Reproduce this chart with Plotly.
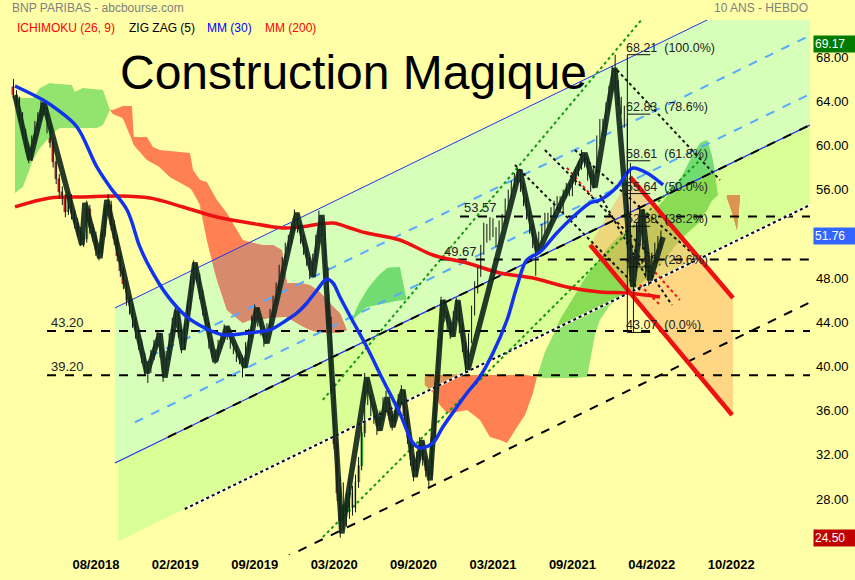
import numpy as np
import plotly.graph_objects as go

# ---------------- weekly candles (week index 0 = 08/2018 tick) ----------------
WEEK0 = -27
OPEN = [65.3, 64.6, 64.0, 62.5, 61.0, 59.8, 58.9, 60.5, 61.8, 62.6,
        63.5, 63.2, 61.5, 60.2, 58.5, 57.0, 55.8, 55.2, 54.0, 55.3,
        53.8, 53.0, 52.2, 51.4, 51.5, 54.2, 52.5, 51.8, 50.5, 50.3,
        52.0, 54.2, 54.6, 52.8, 51.5, 50.0, 48.6, 47.5, 46.0, 45.2,
        44.0, 43.0, 42.0, 40.8, 40.0, 39.8, 41.0, 42.0, 42.6, 41.2,
        39.6, 41.0, 42.6, 44.0, 44.6, 43.0, 42.0, 43.5, 45.5, 47.8,
        48.9, 48.0, 46.5, 45.0, 43.6, 42.0, 41.2, 40.9, 42.0, 42.6,
        43.2, 42.8, 42.0, 41.5, 40.8, 40.6, 40.3, 41.8, 43.0, 44.2,
        44.9, 44.0, 43.2, 42.5, 43.5, 44.8, 46.0, 47.2, 48.8, 49.5,
        50.8, 51.5, 52.6, 53.4, 52.5, 51.5, 50.5, 49.5, 48.6, 49.8,
        51.5, 53.2, 52.4, 48.5, 44.0, 38.0, 33.0, 28.5, 26.0, 27.5,
        26.8, 28.5, 27.2, 29.5, 31.0, 34.0, 38.2, 37.0, 36.0, 35.3,
        34.6, 35.5, 36.6, 36.8, 35.5, 35.0, 36.0, 37.0, 37.4, 35.5,
        33.5, 31.5, 30.5, 31.8, 32.8, 31.5, 30.5, 30.2, 33.5, 38.0,
        42.0, 45.5, 44.5, 43.8, 43.2, 44.6, 45.5, 43.5, 41.8, 40.2,
        42.5, 45.0, 47.2, 48.5, 50.5, 52.5, 51.8, 53.0, 52.2, 51.5,
        52.8, 53.3, 54.8, 55.6, 56.4, 57.0, 57.3, 56.2, 55.0, 53.8,
        52.5, 51.2, 50.8, 51.8, 52.5, 53.5, 53.0, 54.0, 54.6, 55.0,
        54.3, 55.6, 56.2, 55.8, 56.8, 57.6, 58.2, 58.8, 58.5, 57.2,
        56.5, 57.8, 60.5, 62.0, 61.5, 63.5, 65.0, 66.0, 65.5, 64.0,
        63.2, 62.0, 58.0, 48.0, 49.0, 52.5, 53.6, 51.0, 48.5, 48.2,
        49.8, 50.6, 51.2]
HIGH = [66.0, 65.0, 64.4, 63.0, 61.5, 60.2, 60.9, 62.2, 63.0, 64.0,
        64.1, 63.5, 61.9, 60.6, 58.9, 57.4, 56.3, 55.6, 55.8, 55.6,
        54.2, 53.4, 52.6, 52.0, 55.0, 54.6, 52.9, 52.2, 51.0, 52.4,
        54.7, 55.6, 55.0, 53.2, 51.9, 50.4, 49.0, 47.9, 46.4, 45.6,
        44.5, 43.4, 42.4, 41.2, 40.5, 41.5, 42.4, 43.2, 43.0, 41.6,
        41.4, 43.0, 44.4, 45.4, 45.0, 43.4, 43.9, 45.9, 48.2, 49.6,
        49.3, 48.4, 46.9, 45.4, 44.0, 42.4, 41.6, 42.4, 43.0, 43.8,
        43.6, 43.2, 42.4, 41.9, 41.2, 41.0, 42.2, 43.4, 44.6, 45.6,
        45.3, 44.4, 43.6, 43.9, 45.2, 46.4, 47.6, 49.2, 49.9, 51.2,
        51.9, 53.0, 54.2, 53.8, 52.9, 51.9, 50.9, 49.9, 50.2, 51.9,
        54.1, 53.6, 52.8, 49.0, 44.5, 38.6, 33.6, 30.0, 29.5, 28.6,
        30.0, 29.2, 30.2, 31.8, 34.6, 39.4, 38.8, 37.5, 36.6, 35.8,
        36.0, 37.2, 37.8, 37.2, 36.0, 36.5, 37.5, 38.3, 37.8, 36.0,
        34.0, 32.0, 32.3, 33.6, 33.2, 31.9, 31.0, 34.0, 38.5, 42.5,
        46.3, 46.0, 44.9, 44.2, 45.0, 46.2, 45.9, 43.9, 42.2, 43.0,
        45.5, 47.7, 49.0, 51.0, 53.0, 52.9, 53.5, 53.4, 52.6, 53.2,
        53.8, 55.2, 56.0, 56.8, 57.5, 58.0, 57.7, 56.6, 55.4, 54.2,
        52.9, 51.6, 52.2, 52.9, 53.9, 53.9, 54.4, 55.0, 55.4, 55.4,
        56.0, 56.6, 56.6, 57.2, 58.0, 58.6, 59.6, 59.2, 58.9, 57.6,
        58.2, 60.9, 62.4, 62.4, 63.9, 65.4, 67.2, 68.21, 65.9, 64.4,
        63.6, 62.4, 58.4, 50.0, 53.0, 54.6, 54.0, 51.4, 49.0, 50.3,
        51.2, 51.8, 52.3]
LOW = [64.2, 63.5, 62.1, 60.6, 59.4, 58.4, 58.6, 60.1, 61.3, 62.2,
       62.7, 61.1, 59.8, 58.0, 56.5, 55.2, 54.6, 53.5, 53.7, 53.3,
       52.5, 51.7, 50.9, 50.8, 51.2, 52.0, 51.3, 50.0, 49.6, 50.0,
       51.7, 53.8, 52.3, 51.0, 49.5, 48.1, 47.0, 45.5, 44.7, 43.5,
       42.5, 41.5, 40.3, 39.2, 38.5, 39.4, 40.6, 41.6, 40.8, 38.6,
       39.2, 40.6, 42.2, 43.6, 42.6, 41.2, 41.6, 43.1, 45.1, 47.4,
       47.6, 46.1, 44.6, 43.2, 41.6, 40.8, 40.2, 40.5, 41.6, 42.2,
       42.4, 41.6, 41.1, 40.4, 40.2, 39.0, 39.9, 41.4, 42.6, 43.8,
       43.6, 42.8, 41.8, 42.1, 43.1, 44.4, 45.6, 46.8, 48.4, 49.1,
       50.4, 51.1, 52.2, 52.1, 51.1, 50.1, 49.1, 47.9, 48.2, 49.4,
       51.1, 51.8, 48.0, 43.5, 37.5, 32.5, 27.8, 24.5, 25.2, 25.5,
       26.2, 26.5, 26.8, 29.0, 30.6, 33.6, 36.5, 35.5, 34.8, 33.8,
       34.2, 35.1, 36.2, 35.1, 34.2, 34.6, 35.6, 36.6, 35.0, 33.0,
       31.0, 29.6, 30.1, 31.4, 31.0, 30.0, 29.0, 29.8, 33.1, 37.6,
       41.6, 44.0, 43.3, 42.5, 42.8, 44.2, 43.0, 41.3, 39.5, 39.8,
       42.1, 44.6, 46.6, 48.1, 50.1, 51.2, 51.4, 51.7, 50.8, 51.1,
       52.4, 52.9, 54.4, 55.2, 56.0, 56.6, 55.8, 54.5, 53.3, 52.0,
       50.7, 48.2, 50.4, 51.4, 52.1, 52.6, 52.6, 53.6, 54.2, 53.9,
       53.9, 55.2, 55.4, 55.4, 56.4, 57.2, 57.8, 58.0, 56.8, 55.8,
       56.1, 57.4, 60.1, 61.0, 61.1, 63.1, 64.6, 65.1, 63.6, 62.8,
       61.6, 57.5, 47.5, 43.07, 48.6, 52.1, 50.6, 48.0, 47.3, 47.8,
       49.4, 50.2, 50.6]
CLOSE = [64.6, 64.0, 62.5, 61.0, 59.8, 58.9, 60.5, 61.8, 62.6, 63.5,
         63.2, 61.5, 60.2, 58.5, 57.0, 55.8, 55.2, 54.0, 55.3, 53.8,
         53.0, 52.2, 51.4, 51.5, 54.2, 52.5, 51.8, 50.5, 50.3, 52.0,
         54.2, 54.6, 52.8, 51.5, 50.0, 48.6, 47.5, 46.0, 45.2, 44.0,
         43.0, 42.0, 40.8, 40.0, 39.8, 41.0, 42.0, 42.6, 41.2, 39.6,
         41.0, 42.6, 44.0, 44.6, 43.0, 42.0, 43.5, 45.5, 47.8, 48.9,
         48.0, 46.5, 45.0, 43.6, 42.0, 41.2, 40.9, 42.0, 42.6, 43.2,
         42.8, 42.0, 41.5, 40.8, 40.6, 40.3, 41.8, 43.0, 44.2, 44.9,
         44.0, 43.2, 42.5, 43.5, 44.8, 46.0, 47.2, 48.8, 49.5, 50.8,
         51.5, 52.6, 53.4, 52.5, 51.5, 50.5, 49.5, 48.6, 49.8, 51.5,
         53.2, 52.4, 48.5, 44.0, 38.0, 33.0, 28.5, 26.0, 27.5, 26.8,
         28.5, 27.2, 29.5, 31.0, 34.0, 38.2, 37.0, 36.0, 35.3, 34.6,
         35.5, 36.6, 36.8, 35.5, 35.0, 36.0, 37.0, 37.4, 35.5, 33.5,
         31.5, 30.5, 31.8, 32.8, 31.5, 30.5, 30.2, 33.5, 38.0, 42.0,
         45.5, 44.5, 43.8, 43.2, 44.6, 45.5, 43.5, 41.8, 40.2, 42.5,
         45.0, 47.2, 48.5, 50.5, 52.5, 51.8, 53.0, 52.2, 51.5, 52.8,
         53.3, 54.8, 55.6, 56.4, 57.0, 57.3, 56.2, 55.0, 53.8, 52.5,
         51.2, 50.8, 51.8, 52.5, 53.5, 53.0, 54.0, 54.6, 55.0, 54.3,
         55.6, 56.2, 55.8, 56.8, 57.6, 58.2, 58.8, 58.5, 57.2, 56.5,
         57.8, 60.5, 62.0, 61.5, 63.5, 65.0, 66.0, 65.5, 64.0, 63.2,
         62.0, 58.0, 48.0, 49.0, 52.5, 53.6, 51.0, 48.5, 48.2, 49.8,
         50.6, 51.2, 51.76]
WEEKS = list(range(WEEK0, WEEK0 + len(CLOSE)))

# ---------------- indicators ----------------
ZZ_W = [-26.5, -21.6, -17.0, -4.6, -3.6, 1.3, 3.6, 16.7, 21.0, 22.6, 26.5, 28.5, 32.4, 39.0,
        42.9, 48.8, 52.7, 56.0, 65.8, 71.1, 74.0, 80.5, 88.7, 93.0, 95.3, 97.2, 100.5, 104.5,
        106.7, 109.4, 113.6, 116.9, 118.5, 121.8, 138.8, 144.7, 160.1, 163.4, 169.9, 175.8,
        178.8, 181.4, 185.7]
ZZ_P = [64.56, 58.68, 63.84, 51.0, 54.8, 49.8, 55.06, 39.4, 43.0, 39.0, 45.1, 41.5, 49.4, 40.4,
        43.6, 39.9, 45.3, 42.1, 53.9, 48.1, 53.7, 24.9, 39.0, 34.2, 37.2, 34.5, 37.9, 30.0,
        33.3, 29.7, 46.0, 42.7, 46.0, 39.7, 57.8, 50.3, 59.3, 56.2, 67.0, 47.2,
        54.2, 47.8, 51.7]

MM30_W = [-26.5, -17.3, -12.4, -6.2, 0.3, 4.6, 10.2, 14.4, 17.7, 23.2, 29.8, 36.3, 41.6, 47.2,
          52.7, 57.0, 62.5, 65.8, 69.1, 72.4, 75.6, 77.6, 79.9, 83.2, 88.7, 94.0, 99.5, 103.8,
          106.1, 110.3, 113.6, 118.2, 121.5, 125.7, 130.0, 134.6, 137.8, 141.1, 145.4, 150.9,
          156.2, 161.8, 165.0, 170.6, 173.9, 175.8, 180.4, 185.7]
MM30_P = [65.38, 64.11, 63.20, 61.67, 58.05, 56.24, 54.15, 50.81, 48.91, 46.47, 44.48, 43.39,
          42.85, 42.94, 43.12, 43.30, 44.20, 44.83, 45.74, 46.91, 47.91, 47.55, 46.28, 44.56,
          41.76, 38.77, 35.78, 33.07, 32.62, 33.07, 34.52, 36.33, 37.59, 39.04, 41.21, 44.20,
          47.19, 49.63, 50.35, 52.07, 53.52, 54.79, 55.06, 56.24, 57.50, 57.95, 57.50, 56.42]

MM200_W = [-26.5, -15.1, -4.3, 6.9, 17.7, 28.5, 39.6, 50.4, 61.2, 66.8, 77.6, 83.2, 88.7, 99.5,
           110.3, 121.5, 132.3, 143.1, 154.2, 165.0, 173.9, 184.7]
MM200_P = [54.43, 55.24, 55.33, 55.42, 55.24, 54.43, 53.52, 52.98, 52.53, 52.62, 52.98, 52.53,
           52.07, 51.44, 50.08, 49.36, 48.45, 48.00, 47.19, 46.73, 46.64, 46.28]

# Ichimoku cloud patches (upper edge / lower edge)
KUMO1_W = [-26.5, -23.9, -20.6, -18.3, -15.1, -12.8, -11.8, -7.9, -6.9, -4.3, 0.3, 2.3, 4.6]
KUMO1_UP = [64.29, 64.29, 64.29, 65.19, 65.65, 65.56, 65.56, 65.47, 64.83, 65.19, 65.10, 65.01, 63.20]
KUMO1_LO = [55.69, 56.23, 58.68, 59.76, 60.76, 61.39, 61.57, 61.57, 61.57, 61.57, 61.57, 61.85, 63.20]

KUMO2_W = [4.6, 5.6, 8.8, 11.8, 12.4, 16.7, 18.7, 20.9, 24.2, 30.8, 31.8, 34.1, 36.3, 39.6, 42.9,
           48.1, 50.4, 53.7, 58.0, 60.9, 62.5, 66.8, 70.1, 73.3, 77.6, 79.9, 82.2]
KUMO2_UP = [63.20, 63.20, 63.57, 63.57, 60.76, 60.76, 59.85, 59.58, 59.49, 59.31, 57.77, 56.87,
            56.69, 55.06, 53.88, 51.44, 51.26, 50.99, 50.99, 50.53, 47.55, 47.55, 47.37, 46.73,
            45.38, 44.83, 43.29]
KUMO2_LO = [63.20, 62.84, 62.48, 60.49, 60.04, 58.68, 58.41, 58.05, 57.14, 56.15, 55.79, 54.61,
            51.44, 47.82, 45.10, 43.93, 44.20, 44.20, 44.47, 44.47, 44.47, 43.75, 43.29, 43.02,
            43.02, 43.02, 43.29]

KUMO3_W = [83.2, 85.5, 88.7, 92.0, 95.3, 99.5, 100.9, 101.8]
KUMO3_UP = [43.75, 45.38, 46.92, 48.09, 48.91, 49.00, 46.92, 46.01]
KUMO3_LO = [43.75, 44.65, 45.38, 45.56, 45.74, 46.01, 46.01, 46.01]

KUMO4_W = [107.7, 110.4, 112.6, 114.9, 118.2, 121.5, 125.7, 129.0, 132.3, 134.6, 137.9, 140.5, 143.1, 144.4]
KUMO4_UP = [39.04, 39.22, 39.22, 39.22, 39.22, 39.22, 39.22, 39.22, 39.22, 39.22, 39.22, 39.22, 39.13, 39.04]
KUMO4_LO = [38.32, 37.60, 36.51, 35.79, 35.88, 36.06, 35.17, 33.62, 33.34, 33.07, 34.52, 35.61, 37.60, 39.04]

KUMO5_W = [144.4, 147.0, 149.7, 151.9, 156.8, 160.8, 163.4, 165.0, 168.3, 171.6, 174.9, 178.1,
           184.7, 191.2, 194.5, 197.8, 200.1, 201.7, 203.7]
KUMO5_UP = [39.04, 41.30, 42.84, 44.20, 46.46, 48.27, 49.18, 49.81, 50.99, 51.89, 52.52, 53.07,
            54.61, 56.87, 58.68, 60.22, 60.49, 59.13, 55.51]
KUMO5_LO = [39.04, 38.95, 38.95, 38.95, 38.95, 39.04, 42.84, 44.20, 45.56, 46.19, 46.73, 47.37,
            49.18, 51.44, 52.34, 53.07, 54.16, 55.06, 55.51]

KUMO6_W = [206.6, 208.6, 209.9, 210.9]
KUMO6_UP = [55.51, 55.51, 55.51, 55.51]
KUMO6_LO = [55.24, 53.70, 52.34, 55.33]

# regression channel (values at its two ends)
CH_W = [6.22, 233.8]
CH_TOP = [45.29, 75.88]
CH_MID = [31.26, 61.85]
CH_BOT = [24.02, 54.61]
CH_DEEP = [15.21, 45.80]
CH_DASH_A = [39.36, 69.95]
CH_DASH_B = [34.06, 64.65]

# other trend lines (week, price pairs)
GREEN_LINES = [([74.3, 179.1], [36.96, 71.53]), ([74.3, 197.8], [24.56, 58.68])]
BLACK_DOT_LINES = [([137.2, 178.1], [58.23, 46.92]), ([147.0, 184.7], [59.58, 49.18]),
                   ([156.8, 197.8], [59.58, 49.63]), ([170.6, 204.3], [66.82, 56.87]),
                   ([165.0, 180.8], [55.51, 47.82]), ([174.2, 188.6], [51.44, 45.56])]
RED_DOT_LINES = [([154.2, 162.4], [57.96, 55.42]), ([183.0, 191.2], [48.54, 46.01]),
                 ([178.1, 184.7], [47.37, 45.56])]
RED_UP_W, RED_UP_P = [174.9, 208.6], [57.14, 46.19]
RED_LO_W, RED_LO_P = [161.8, 208.3], [51.0, 35.6]

LEVELS = [53.57, 49.67, 43.20, 39.20]
LEVEL_FROM = [119.2, 112.6, -16.0, -16.0]

FIB_P = [68.21, 62.83, 58.61, 55.64, 52.68, 49.00, 43.07]
FIB_PCT = ["100.0%", "78.6%", "61.8%", "50.0%", "38.2%", "23.6%", "0.0%"]
FIB_W = [174.0, 181.5]

XTICK_W = [0, 26, 52, 78, 104, 130, 156, 182, 208]
XTICK_TXT = ["08/2018", "02/2019", "09/2019", "03/2020", "09/2020", "03/2021", "09/2021", "04/2022", "10/2022"]
YTICKS = [28, 32, 36, 40, 44, 48, 56, 60, 64, 68]

PRICE_MAX, PRICE_LAST, PRICE_MIN = 69.17, 51.76, 24.50

# ---------------- styling ----------------
BG = "#FFFFA8"
C_UPCH = "#D8FFBA"
C_LOCH = "#DAFF96"
C_RED = "#FF8052"
C_RED_UP = "#D78B6C"
C_RED_LO = "#DC9450"
C_GRN = "#92E46E"
C_GRN_UP = "#72DC72"
C_GRN_LO = "#8ADC55"
FONT = "Liberation Sans, Arial, sans-serif"
NARROW = "Liberation Sans Narrow, Arial Narrow, Liberation Sans"

fig = go.Figure()


def line_at(w, ws, ps):
    w = np.asarray(w, dtype=float)
    return ps[0] + (ps[1] - ps[0]) * (w - ws[0]) / (ws[1] - ws[0])


def poly(xs, ys, color, opacity=1.0):
    fig.add_trace(go.Scatter(x=list(xs), y=list(ys), mode="lines", fill="toself",
                             fillcolor=color, line=dict(width=0, color=color),
                             opacity=opacity, hoverinfo="skip"))


def seg(ws, ps, color, width, dash=None, opacity=1.0):
    fig.add_trace(go.Scatter(x=list(ws), y=list(ps), mode="lines", opacity=opacity,
                             line=dict(color=color, width=width, dash=dash), hoverinfo="skip"))


def band_poly(w_start, lo_line, hi_line, color):
    ws = np.array([w_start, CH_W[1]])
    hi = line_at(ws, CH_W, hi_line)
    lo = line_at(ws, CH_W, lo_line)
    poly(list(ws) + list(ws[::-1]), list(hi) + list(lo[::-1]), color)


# channel fills
band_poly(6.22, CH_MID, CH_TOP, C_UPCH)
band_poly(7.2, CH_BOT, CH_MID, C_LOCH)

# cloud patches with overlap colours
patches = [(KUMO1_W, KUMO1_UP, KUMO1_LO, "g"), (KUMO2_W, KUMO2_UP, KUMO2_LO, "r"),
           (KUMO3_W, KUMO3_UP, KUMO3_LO, "g"), (KUMO4_W, KUMO4_UP, KUMO4_LO, "r"),
           (KUMO5_W, KUMO5_UP, KUMO5_LO, "g"), (KUMO6_W, KUMO6_UP, KUMO6_LO, "r")]
for pw, pu, pl, kind in patches:
    base = C_GRN if kind == "g" else C_RED
    poly(list(pw) + list(pw[::-1]), list(pu) + list(pl[::-1]), base)
    d = np.linspace(pw[0], pw[-1], 400)
    u = np.interp(d, pw, pu)
    l = np.interp(d, pw, pl)
    for lo_line, hi_line, wmin, col in [(CH_MID, CH_TOP, 6.22, C_GRN_UP if kind == "g" else C_RED_UP),
                                         (CH_BOT, CH_MID, 7.2, C_GRN_LO if kind == "g" else C_RED_LO)]:
        ct = np.minimum(u, line_at(d, CH_W, hi_line))
        cb = np.maximum(l, line_at(d, CH_W, lo_line))
        ct = np.maximum(ct, cb)
        ct[d < wmin] = cb[d < wmin]
        if np.any(ct - cb > 1e-6):
            poly(list(d) + list(d[::-1]), list(ct) + list(cb[::-1]), col)

# descending channel fill (peach, translucent)
poly([RED_LO_W[0], RED_UP_W[0], RED_UP_W[1], RED_UP_W[1]],
     [RED_LO_P[0], RED_UP_P[0], RED_UP_P[1], line_at(RED_UP_W[1], RED_LO_W, RED_LO_P)],
     "rgba(255,175,95,0.5)")

# horizontal levels
for lv, w0 in zip(LEVELS, LEVEL_FROM):
    seg([w0, 233.8], [lv, lv], "black", 2, "dash")

# channel lines
seg(CH_W, CH_TOP, "#2233EE", 1)
seg(CH_W, CH_MID, "#2233EE", 1.3)
ws = [17.7, 233.8]
seg(ws, line_at(ws, CH_W, CH_DASH_A), "#55AAFF", 2, "dash")
ws = [12.8, 233.8]
seg(ws, line_at(ws, CH_W, CH_DASH_B), "#55AAFF", 2, "dash")
ws = [23.6, 233.8]
seg(ws, line_at(ws, CH_W, CH_MID), "black", 2, "dash")
ws = [29.1, 233.8]
seg(ws, line_at(ws, CH_W, CH_BOT), "white", 2.5)
seg(ws, line_at(ws, CH_W, CH_BOT), "black", 2, "dot")
ws = [61.0, 233.8]
seg(ws, line_at(ws, CH_W, CH_DEEP), "black", 2, "dash")

for ws, ps in GREEN_LINES:
    seg(ws, ps, "#119911", 2, "dot")
for ws, ps in BLACK_DOT_LINES:
    seg(ws, ps, "#111111", 2, "dot")
for ws, ps in RED_DOT_LINES:
    seg(ws, ps, "#EE1111", 2, "dot")

# red descending channel
seg(RED_UP_W, RED_UP_P, "#EE1111", 4.5)
seg(RED_LO_W, RED_LO_P, "#EE1111", 4.5)

# MM200
fig.add_trace(go.Scatter(x=MM200_W, y=MM200_P, mode="lines", line=dict(color="#EE1111", width=3.5, shape="spline"),
                         hoverinfo="skip"))

# candles: wicks + bodies
wx, wy = [], []
for w, h, l in zip(WEEKS, HIGH, LOW):
    wx += [w, w, None]
    wy += [l, h, None]
fig.add_trace(go.Scatter(x=wx, y=wy, mode="lines", line=dict(color="#111111", width=1), hoverinfo="skip"))
base = [min(o, c) for o, c in zip(OPEN, CLOSE)]
height = [max(abs(c - o), 0.15) for o, c in zip(OPEN, CLOSE)]
cols = ["#11DD11" if c >= o else "#EE2222" for o, c in zip(OPEN, CLOSE)]
fig.add_trace(go.Bar(x=WEEKS, y=height, base=base, width=0.62, marker=dict(color=cols, line=dict(width=0.4, color="#333333")),
                     hoverinfo="skip"))

# zigzag
fig.add_trace(go.Scatter(x=ZZ_W, y=ZZ_P, mode="lines", line=dict(color="#10261A", width=5.5), opacity=0.9,
                         hoverinfo="skip"))

# MM30
fig.add_trace(go.Scatter(x=MM30_W, y=MM30_P, mode="lines", line=dict(color="#1133EE", width=3.5, shape="spline"),
                         hoverinfo="skip"))

# fibonacci retracement
seg([FIB_W[0], FIB_W[0]], [FIB_P[-1], FIB_P[0]], "#111111", 1)
annotations = []
for p, pct in zip(FIB_P, FIB_PCT):
    seg(FIB_W, [p, p], "#111111", 1)
    annotations.append(dict(x=FIB_W[0], y=p, xref="x", yref="y", text=f"{p:.2f}\u00a0 ({pct})", showarrow=False,
                            xanchor="left", yanchor="bottom", yshift=-2, xshift=-3,
                            font=dict(family=FONT, size=12.5, color="#222222")))
for lv, w0 in zip(LEVELS, LEVEL_FROM):
    annotations.append(dict(x=w0, y=lv, xref="x", yref="y", text=f"{lv:.2f}", showarrow=False,
                            xanchor="left", yanchor="bottom", xshift=2, yshift=-1,
                            font=dict(family=FONT, size=13, color="#222222")))

annotations += [
    dict(x=10 / 810, y=(555 - 8) / 535, xref="paper", yref="paper", text="BNP PARIBAS - abcbourse.com",
         showarrow=False, xanchor="left", yanchor="middle", font=dict(family=FONT, size=12, color="#808080")),
    dict(x=1.0, y=(555 - 8) / 535, xref="paper", yref="paper", text="10 ANS - HEBDO",
         showarrow=False, xanchor="right", yanchor="middle", font=dict(family=FONT, size=12, color="#808080")),
    dict(x=353 / 810, y=(555 - 72) / 535, xref="paper", yref="paper", text="Construction Magique",
         showarrow=False, xanchor="center", yanchor="middle", font=dict(family=FONT, size=48, color="#000000")),
]
for txt, xpx, col in [("ICHIMOKU (26, 9)", 15, "#FF0000"), ("ZIG ZAG (5)", 127, "#000000"),
                      ("MM (30)", 205, "#0000FF"), ("MM (200)", 263, "#FF0000")]:
    annotations.append(dict(x=xpx / 810, y=(555 - 28) / 535, xref="paper", yref="paper", text=txt, showarrow=False,
                            xanchor="left", yanchor="middle", font=dict(family=FONT, size=12, color=col)))
for val, bg in [(PRICE_MAX, "#007A00"), (PRICE_LAST, "#3366FF"), (PRICE_MIN, "#C00000")]:
    annotations.append(dict(x=1.0, y=val, xref="paper", yref="y", text=f"{val:.2f}", showarrow=False,
                            xanchor="left", yanchor="middle", xshift=3, bgcolor=bg, width=40, align="left",
                            borderpad=1, font=dict(family=FONT, size=12, color="white")))

fig.update_layout(
    width=855, height=580, margin=dict(l=0, r=45, t=20, b=25),
    paper_bgcolor=BG, plot_bgcolor=BG, showlegend=False, annotations=annotations, bargap=0,
    xaxis=dict(range=[-31.4, 233.8], tickvals=XTICK_W, ticktext=XTICK_TXT, showgrid=False, zeroline=False,
               showline=False, ticks="", tickfont=dict(family=NARROW, size=13, color="#000000", weight="bold")),
    yaxis=dict(range=[22.93, 71.35], side="right", tickvals=YTICKS, tickformat=".2f", showgrid=False,
               zeroline=False, showline=False, ticks="", ticklabelstandoff=5,
               tickfont=dict(family=FONT, size=13, color="#000000")),
)

fig.write_html("out.html", config={"displayModeBar": False})
with open("out.html", "r", encoding="utf-8") as fh:
    html = fh.read()
html = html.replace("<head>", "<head><style>html,body{margin:0;padding:0;overflow:hidden;}</style>", 1)
with open("out.html", "w", encoding="utf-8") as fh:
    fh.write(html)
